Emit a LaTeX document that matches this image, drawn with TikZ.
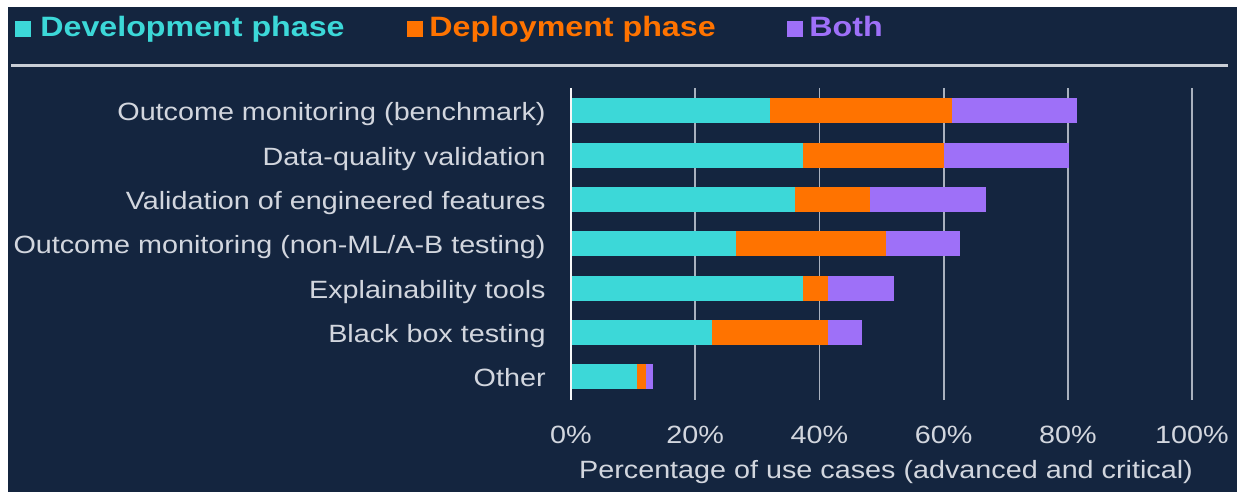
\documentclass[tikz,border=0pt]{standalone}
\usepackage{fontspec}
\setmainfont{Liberation Sans}[FakeStretch=1.15]
\definecolor{navy}{HTML}{14253F}
\definecolor{devc}{HTML}{3CD8D8}
\definecolor{depc}{HTML}{FF7300}
\definecolor{bothc}{HTML}{9E70F8}
\definecolor{txt}{HTML}{D2D6DE}
\definecolor{gridc}{HTML}{A9B1BE}
\definecolor{rulec}{HTML}{C9CED6}
\tikzset{
  catlabel/.style={text=txt, inner sep=0pt, font=\fontsize{12.5}{15}\selectfont, anchor=base east},
  ticklabel/.style={text=txt, inner sep=0pt, font=\fontsize{12.5}{15}\selectfont, anchor=base},
  legtext/.style={inner sep=0pt, font=\fontsize{14}{16}\selectfont\bfseries, anchor=base west},
  gridline/.style={draw=gridc, line width=0.9pt},
  axisline/.style={draw=white!90!gridc, line width=1pt},
}
\begin{document}
\begin{tikzpicture}[x=0.5pt, y=-0.5pt]
  \useasboundingbox (0,0) rectangle (1237,492);
  \fill[white] (0,0) rectangle (1237,492);
  % panel runs past the page edge on the right and bottom
  \fill[navy] (8,7) rectangle (1245,500);

  % legend
  \fill[devc] (15,21) rectangle (31,37);
  \node[legtext, text=devc] (legdev) at (40,37) {Development phase};
  \fill[depc] (407,21) rectangle (423,37);
  \node[legtext, text=depc] (legdep) at (429,37) {Deployment phase};
  \fill[bothc] (787,21) rectangle (803,37);
  \node[legtext, text=bothc] (legboth) at (809,37) {Both};

  % separator rule
  \coordinate (ruleL) at (11,66);
  \coordinate (ruleR) at (1228,66);
  \draw[draw=rulec, line width=1.5pt] (ruleL) -- (ruleR);

  % vertical gridlines and tick labels
  \foreach \p in {20,40,60,80,100} {
    \coordinate (gt\p) at ({571+6.21*\p},88);
    \coordinate (gb\p) at ({571+6.21*\p},400);
    \draw[gridline] (gt\p) -- (gb\p);
  }
  \foreach \p in {0,20,40,60,80,100} {
    \node[ticklabel] (tick\p) at ({571+6.21*\p},443) {\p\%};
  }

  % stacked bars: development / deployment / both (cumulative ends)
  \foreach \i/\a/\b/\c/\name in {
      1/32.0/61.4/81.4/{Outcome monitoring (benchmark)},
      2/37.4/60.1/80.2/{Data-quality validation},
      3/36.0/48.1/66.8/{Validation of engineered features},
      4/26.6/50.7/62.7/{Outcome monitoring (non-ML/A-B testing)},
      5/37.4/41.4/52.0/{Explainability tools},
      6/22.7/41.4/46.8/{Black box testing},
      7/10.6/12.0/13.2/{Other}} {
    \pgfmathsetmacro{\yc}{110.8+44.33*(\i-1)}
    \fill[devc]  (571,\yc-12.5) rectangle ({571+6.21*\a},\yc+12.5);
    \fill[depc]  ({571+6.21*\a},\yc-12.5) rectangle ({571+6.21*\b},\yc+12.5);
    \fill[bothc] ({571+6.21*\b},\yc-12.5) rectangle ({571+6.21*\c},\yc+12.5);
    \node[catlabel] (cat\i) at (546,\yc+10) {\name};
  }

  % zero axis
  \coordinate (axT) at (571,88);
  \coordinate (axB) at (571,400);
  \draw[axisline] (axT) -- (axB);

  % axis title
  \node[ticklabel] (xtitle) at (886,478) {Percentage of use cases (advanced and critical)};
\end{tikzpicture}
\end{document}
